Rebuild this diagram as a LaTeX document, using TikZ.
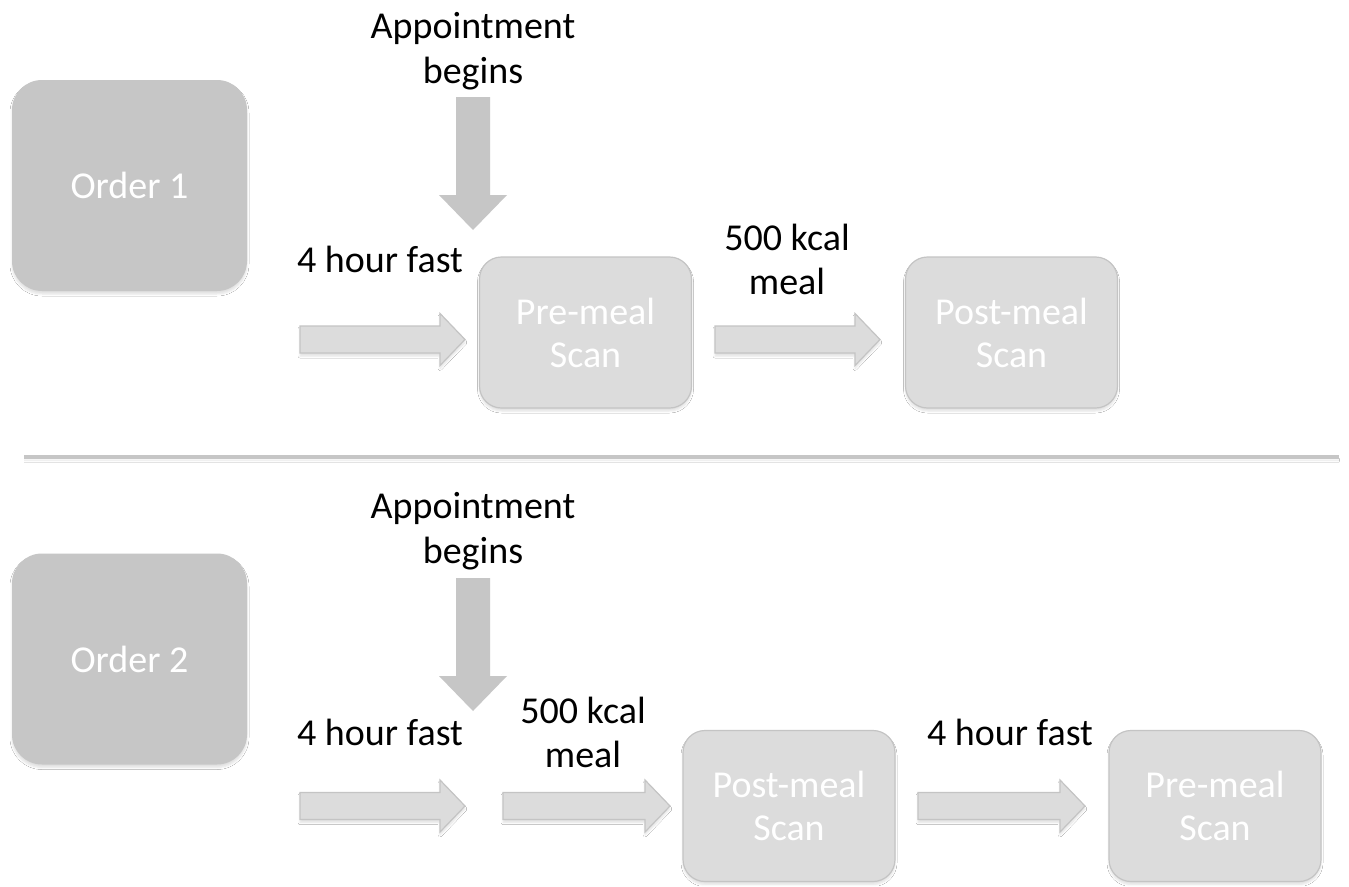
\documentclass[tikz,border=0pt]{standalone}
\usepackage{fontspec}
\setmainfont{Carlito}
\usetikzlibrary{shadows.blur}
\definecolor{darkbox}{HTML}{C6C6C6}
\definecolor{lightbox}{HTML}{DCDCDC}
\definecolor{lightedge}{HTML}{C4C4C4}
\newcommand{\rightblock}[3]{%
  \path[rarrow] (#1,{#3-13.5}) -- ({#2-25},{#3-13.5}) -- ({#2-25},{#3-26}) -- (#2,#3)
    -- ({#2-25},{#3+26}) -- ({#2-25},{#3+13.5}) -- (#1,{#3+13.5}) -- cycle;}
\newcommand{\downblock}[1]{%
  \path[darrow] (456,{#1+97}) -- (490,{#1+97}) -- (490,{#1+195}) -- (507,{#1+195})
    -- (473,{#1+230}) -- (439,{#1+195}) -- (456,{#1+195}) -- cycle;}
\tikzset{
  softshadow/.style={blur shadow={shadow xshift=0pt, shadow yshift=-3pt, shadow blur radius=2pt, shadow opacity=12, shadow blur steps=5}},
  orderbox/.style={draw=none, fill=darkbox, rounded corners=30pt, minimum width=235pt, minimum height=211pt,
    text=white, font=\fontsize{38}{43}\selectfont, inner sep=0pt, softshadow},
  scanbox/.style={draw=lightedge, line width=1.2pt, fill=lightbox, rounded corners=22pt, minimum width=212pt, minimum height=151pt,
    text=white, font=\fontsize{38}{43}\selectfont, align=center, inner sep=0pt, softshadow},
  rarrow/.style={fill=lightbox, draw=lightedge, line width=1.2pt, softshadow},
  darrow/.style={fill=darkbox, draw=none},
  lbl/.style={text=black, font=\fontsize{38}{44}\selectfont, align=center, inner sep=0pt},
  sepline/.style={draw=darkbox, line width=3.5pt, softshadow}
}
\begin{document}
\begin{tikzpicture}[x=1pt,y=-1pt]
\path[use as bounding box, fill=white] (0,0) rectangle (1349,886);

% ---------- Order 1 ----------
\node[orderbox] (o1) at (129.5,185.5) {Order 1};
\node[lbl, font=\fontsize{38}{45}\selectfont] (app1) at (473,51) {Appointment\\begins};
\downblock{0}
\node[lbl, anchor=base] (fast1) at (380,272) {4 hour fast};
\node[lbl] (meal1) at (787,259) {500 kcal\\meal};
\node[scanbox] (pre1) at (585.5,332.5) {Pre-meal\\Scan};
\node[scanbox] (post1) at (1011.5,332.5) {Post-meal\\Scan};
\rightblock{300}{465}{339.5}
\rightblock{715}{880}{339.5}

% ---------- separator ----------
\draw[sepline] (24,457) -- (1339,457);

% ---------- Order 2 ----------
\node[orderbox] (o2) at (129.5,659) {Order 2};
\node[lbl, font=\fontsize{38}{45}\selectfont] (app2) at (473,531) {Appointment\\begins};
\downblock{481}
\node[lbl, anchor=base] (fast2) at (380,745) {4 hour fast};
\node[lbl] (meal2) at (583,732) {500 kcal\\meal};
\node[lbl, anchor=base] (fast3) at (1010,745) {4 hour fast};
\node[scanbox] (post2) at (789,806) {Post-meal\\Scan};
\node[scanbox] (pre2) at (1215,806) {Pre-meal\\Scan};
\rightblock{300}{465}{806}
\rightblock{503}{670}{806}
\rightblock{918}{1085}{806}
\end{tikzpicture}
\end{document}
